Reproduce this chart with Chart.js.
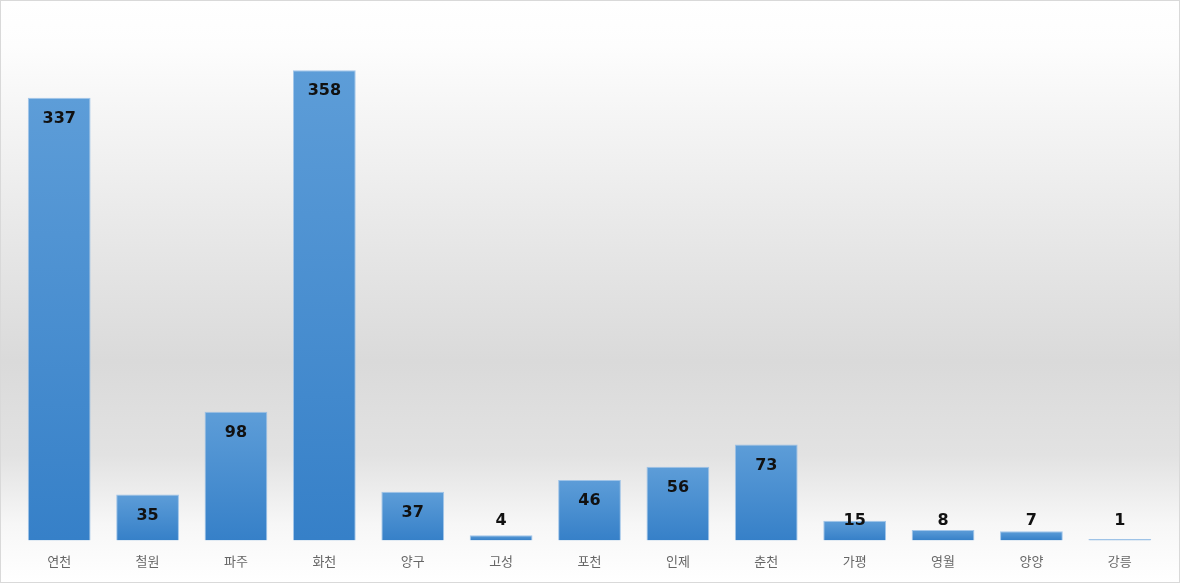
<!DOCTYPE html>
<html>
<head>
<meta charset="utf-8">
<script src="https://cdn.jsdelivr.net/npm/chart.js@4"></script>
<style>
html,body{margin:0;padding:0;background:#fff;}
#wrap{width:1180px;height:583px;position:relative;}
canvas{display:block;}
</style>
</head>
<body>
<div id="wrap"><canvas id="c" width="1180" height="583"></canvas></div>
<script>
const categories = ['연천','철원','파주','화천','양구','고성','포천','인제','춘천','가평','영월','양양','강릉'];
const values = [337,35,98,358,37,4,46,56,73,15,8,7,1];

const bgPlugin = {
  id: 'bg',
  beforeDraw(chart){
    const {ctx, width, height} = chart;
    ctx.save();
    const g = ctx.createLinearGradient(0,0,0,height);
    g.addColorStop(0,'#ffffff');
    g.addColorStop(0.08,'#fdfdfd');
    g.addColorStop(0.35,'#ebebeb');
    g.addColorStop(0.62,'#dadada');
    g.addColorStop(0.78,'#e2e2e2');
    g.addColorStop(0.9,'#f7f7f7');
    g.addColorStop(1,'#ffffff');
    ctx.fillStyle = g;
    ctx.fillRect(0,0,width,height);
    ctx.strokeStyle = '#d9d9d9';
    ctx.lineWidth = 1;
    ctx.strokeRect(0.5,0.5,width-1,height-1);
    ctx.restore();
  }
};

const labelPlugin = {
  id: 'vlabels',
  afterDatasetsDraw(chart){
    const {ctx} = chart;
    const meta = chart.getDatasetMeta(0);
    ctx.save();
    ctx.font = 'bold 16px "DejaVu Sans", sans-serif';
    ctx.fillStyle = '#111';
    ctx.textAlign = 'center';
    ctx.textBaseline = 'middle';
    meta.data.forEach((bar,i)=>{
      const y = Math.min(bar.y + 21, 521);
      ctx.fillText(String(values[i]), bar.x, y);
    });
    ctx.restore();
  }
};

const ctx = document.getElementById('c').getContext('2d');
new Chart(ctx, {
  type: 'bar',
  data: {
    labels: categories,
    datasets: [{
      data: values,
      backgroundColor(c){
        const chart = c.chart;
        const area = chart.chartArea;
        const ys = chart.scales && chart.scales.y;
        if(!area || !ys || c.raw === undefined) return '#4a8fd0';
        const top = ys.getPixelForValue(c.raw);
        const bottom = area.bottom;
        const g = chart.ctx.createLinearGradient(0, top, 0, Math.max(bottom, top+1));
        g.addColorStop(0,'#5d9dd8');
        g.addColorStop(1,'#3680c8');
        return g;
      },
      borderColor: 'rgba(140,185,230,0.8)',
      borderWidth: 1,
      borderSkipped: 'bottom',
      categoryPercentage: 0.71,
      barPercentage: 1.0
    }]
  },
  options: {
    responsive: false,
    animation: false,
    layout: { padding: { left: 15, right: 16, top: 15, bottom: 1 } },
    plugins: { legend: { display: false }, tooltip: { enabled: false } },
    scales: {
      x: {
        grid: { display: false, drawTicks: false },
        border: { display: false },
        ticks: { color: '#666', font: { family: '"Noto Sans CJK KR"', size: 13 }, padding: 13 }
      },
      y: { display: false, min: 0, max: 400 }
    }
  },
  plugins: [bgPlugin, labelPlugin]
});
</script>
</body>
</html>
